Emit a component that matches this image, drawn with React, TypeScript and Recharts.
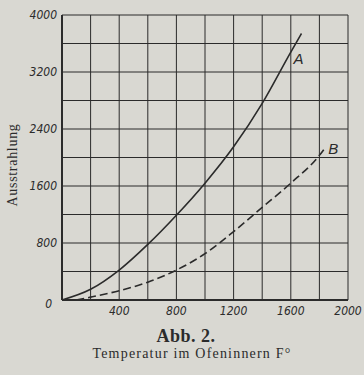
import { CartesianGrid, Line, LineChart, XAxis, YAxis } from "recharts";

const tempA = [0, 200, 400, 600, 800, 1000, 1200, 1400, 1600, 1675];
const valA = [0, 150, 420, 780, 1190, 1640, 2150, 2760, 3480, 3740];

const tempB = [100, 200, 400, 600, 800, 1000, 1200, 1400, 1600, 1800, 1834];
const valB = [0, 40, 130, 250, 420, 650, 960, 1300, 1640, 2030, 2120];

const xTicks = [0, 200, 400, 600, 800, 1000, 1200, 1400, 1600, 1800, 2000];
const yTicks = [0, 400, 800, 1200, 1600, 2000, 2400, 2800, 3200, 3600, 4000];

const seriesA = tempA.map((t, i) => ({ t, v: valA[i] }));
const seriesB = tempB.map((t, i) => ({ t, v: valB[i] }));

const ink = "#2b2b2b";
const paper = "#d9d8d2";
const tickFont = {
  fill: ink,
  fontSize: 12,
  fontStyle: "italic",
  fontFamily: "'DejaVu Sans Condensed', 'Liberation Sans', sans-serif",
};

function endLabel(name: string, last: number, dx: number, dy: number) {
  return (props: any) => {
    if (props.index !== last) return null;
    return (
      <text
        x={props.x + dx}
        y={props.y + dy}
        fill={ink}
        fontSize={15}
        fontStyle="italic"
        fontFamily="'Liberation Sans', sans-serif"
        dominantBaseline="central"
      >
        {name}
      </text>
    );
  };
}

// die "0" sitzt im Original etwas tiefer in der Ecke
function YTick(props: any) {
  const { x, y, payload } = props;
  const v = payload.value as number;
  if (v % 800 !== 0) return null;
  const zero = v === 0;
  return (
    <text
      x={x - (zero ? 8 : 3)}
      y={y + (zero ? 4 : 0)}
      textAnchor="end"
      dominantBaseline="central"
      {...tickFont}
    >
      {v}
    </text>
  );
}

export default function App() {
  return (
    <div
      style={{
        position: "absolute",
        left: 0,
        top: 0,
        width: 364,
        height: 375,
        background: paper,
        fontFamily: "'Liberation Serif', serif",
        color: ink,
      }}
    >
      <LineChart
        width={364}
        height={322}
        margin={{ top: 15, right: 16, bottom: 0, left: 0 }}
      >
        <CartesianGrid stroke={ink} strokeWidth={1} />
        <XAxis
          type="number"
          dataKey="t"
          domain={[0, 2000]}
          ticks={xTicks}
          tickFormatter={(v: number) => (v > 0 && v % 400 === 0 ? String(v) : "")}
          tick={tickFont}
          tickLine={false}
          tickSize={0}
          tickMargin={6}
          height={22}
          axisLine={{ stroke: ink, strokeWidth: 2 }}
        />
        <YAxis
          type="number"
          dataKey="v"
          domain={[0, 4000]}
          ticks={yTicks}
          tick={<YTick />}
          tickLine={false}
          tickSize={0}
          width={62}
          axisLine={{ stroke: ink, strokeWidth: 2 }}
        />
        <Line
          data={seriesA}
          dataKey="v"
          type="monotone"
          stroke={ink}
          strokeWidth={1.6}
          dot={false}
          isAnimationActive={false}
          label={endLabel("A", seriesA.length - 1, -8, 25)}
        />
        <Line
          data={seriesB}
          dataKey="v"
          type="monotone"
          stroke={ink}
          strokeWidth={1.6}
          strokeDasharray="8 4"
          dot={false}
          isAnimationActive={false}
          label={endLabel("B", seriesB.length - 1, 4, 0)}
        />
      </LineChart>
      <div
        style={{
          position: "absolute",
          left: 13,
          top: 165,
          transform: "translate(-50%, -50%) rotate(-90deg)",
          fontSize: 14,
          letterSpacing: 0.7,
          whiteSpace: "nowrap",
        }}
      >
        Ausstrahlung
      </div>
      <div
        style={{
          position: "absolute",
          left: 0,
          top: 326,
          width: 372,
          textAlign: "center",
          fontSize: 18,
          fontWeight: "bold",
          letterSpacing: 0.5,
        }}
      >
        Abb. 2.
      </div>
      <div
        style={{
          position: "absolute",
          left: 0,
          top: 346,
          width: 384,
          textAlign: "center",
          fontSize: 14,
          letterSpacing: 1.2,
          whiteSpace: "nowrap",
        }}
      >
        Temperatur im Ofeninnern F°
      </div>
    </div>
  );
}
